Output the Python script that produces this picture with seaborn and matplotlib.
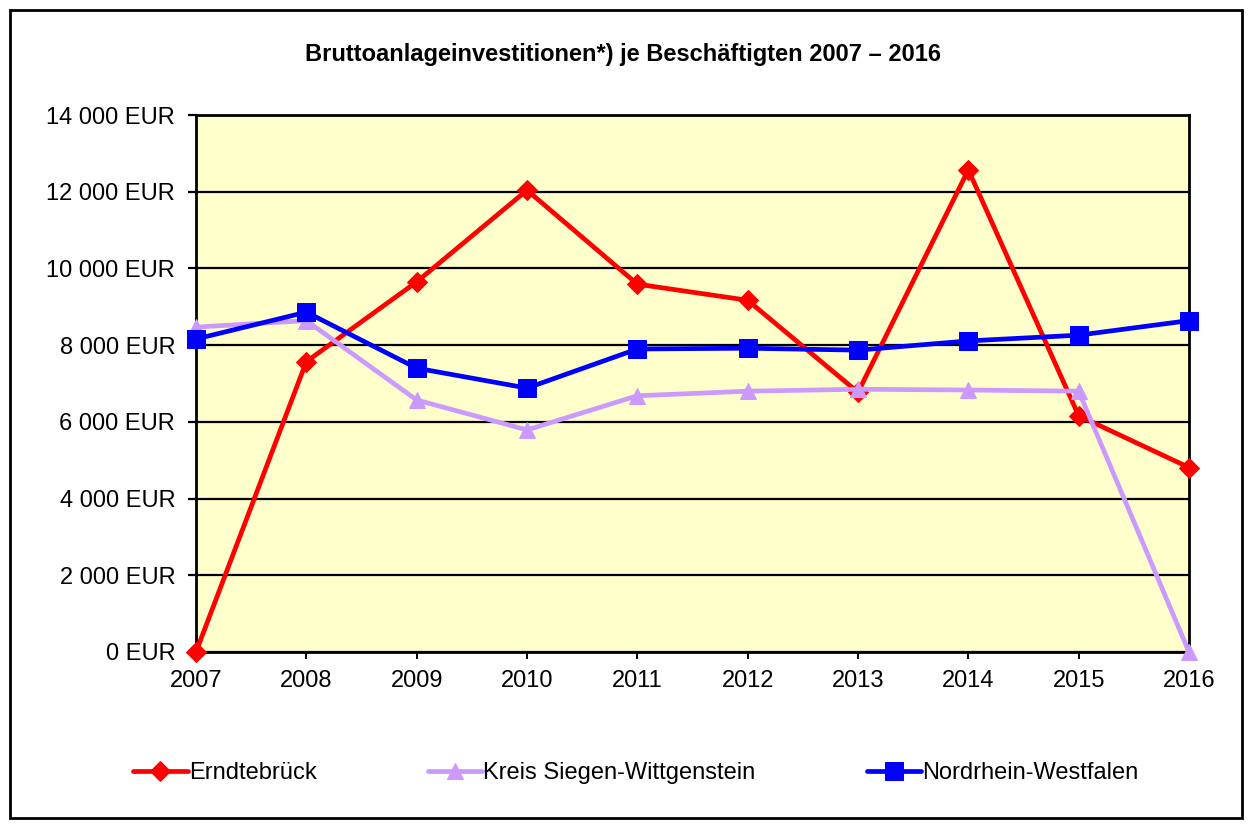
import matplotlib
matplotlib.use("Agg")
import matplotlib.pyplot as plt
from matplotlib.patches import Rectangle
import seaborn as sns
import pandas as pd

# =========================
# Data
# =========================

years = [2007, 2008, 2009, 2010, 2011, 2012, 2013, 2014, 2015, 2016]

erndtebrueck = [0, 7570, 9650, 12040, 9590, 9170, 6770, 12570, 6160, 4810]
kreis_siegen = [8470, 8640, 6570, 5790, 6680, 6800, 6850, 6830, 6800, 0]
nrw = [8160, 8860, 7400, 6880, 7900, 7920, 7870, 8110, 8260, 8640]

series_names = ["Erndtebrück", "Kreis Siegen-Wittgenstein", "Nordrhein-Westfalen"]

y_ticks = [0, 2000, 4000, 6000, 8000, 10000, 12000, 14000]

title = "Bruttoanlageinvestitionen*) je Beschäftigten 2007 – 2016"

df = pd.DataFrame({
    "Jahr": years,
    series_names[0]: erndtebrueck,
    series_names[1]: kreis_siegen,
    series_names[2]: nrw,
})

# =========================
# Style
# =========================

sns.set_style("white")
plt.rcParams["font.family"] = ["Liberation Sans", "DejaVu Sans"]
plt.rcParams["text.color"] = "black"

styles = {
    series_names[0]: dict(color="#FF0000", marker="D", markersize=10.5),
    series_names[1]: dict(color="#CC99FF", marker="^", markersize=12),
    series_names[2]: dict(color="#0000FF", marker="s", markersize=12.5),
}

# =========================
# Figure
# =========================

fig = plt.figure(figsize=(12.52, 8.27), dpi=100)
ax = fig.add_axes([196 / 1252, 1 - 652 / 827, (1189 - 196) / 1252, (652 - 115) / 827])
ax.set_facecolor("#FFFFCC")

for name in series_names:
    st = styles[name]
    sns.lineplot(
        data=df,
        x="Jahr",
        y=name,
        ax=ax,
        label=name,
        color=st["color"],
        marker=st["marker"],
        markersize=st["markersize"],
        markeredgecolor=st["color"],
        linewidth=3.4,
        clip_on=False,
        zorder=3,
    )

ax.set_xlim(years[0], years[-1])
ax.set_ylim(0, 14000)
ax.set_xticks(years)
ax.set_xticklabels([str(y) for y in years])
ax.set_yticks(y_ticks)
ax.set_yticklabels([f"{v:,} EUR".replace(",", " ") for v in y_ticks])
ax.set_xlabel("")
ax.set_ylabel("")

ax.grid(axis="y", color="black", linewidth=1.6)
ax.grid(axis="x", visible=False)
ax.set_axisbelow(True)

for sp in ax.spines.values():
    sp.set_color("black")
    sp.set_linewidth(2)

ax.tick_params(axis="y", labelsize=17, colors="black", direction="out",
               length=6, width=1.6, pad=9, left=True)
ax.tick_params(axis="x", labelsize=17, colors="black", direction="out",
               length=5, width=1.4, pad=8, bottom=True)

# =========================
# Title, legend, frame
# =========================

fig.text(623 / 1252, 1 - 55 / 827, title, ha="center", va="center",
         fontsize=17, fontweight="bold", color="black")

leg = ax.legend(
    loc="center",
    bbox_to_anchor=(636 / 1252, 1 - 773 / 827),
    bbox_transform=fig.transFigure,
    ncol=3,
    frameon=False,
    fontsize=17,
    handlelength=2.3,
    handletextpad=0.05,
    columnspacing=4.72,
)
for txt in leg.get_texts():
    txt.set_color("black")

fig.patches.append(Rectangle((10 / 1252, 1 - 818 / 827), 1232 / 1252, 808 / 827,
                             transform=fig.transFigure, fill=False,
                             edgecolor="black", linewidth=2))

fig.savefig("out.png", dpi=100)
